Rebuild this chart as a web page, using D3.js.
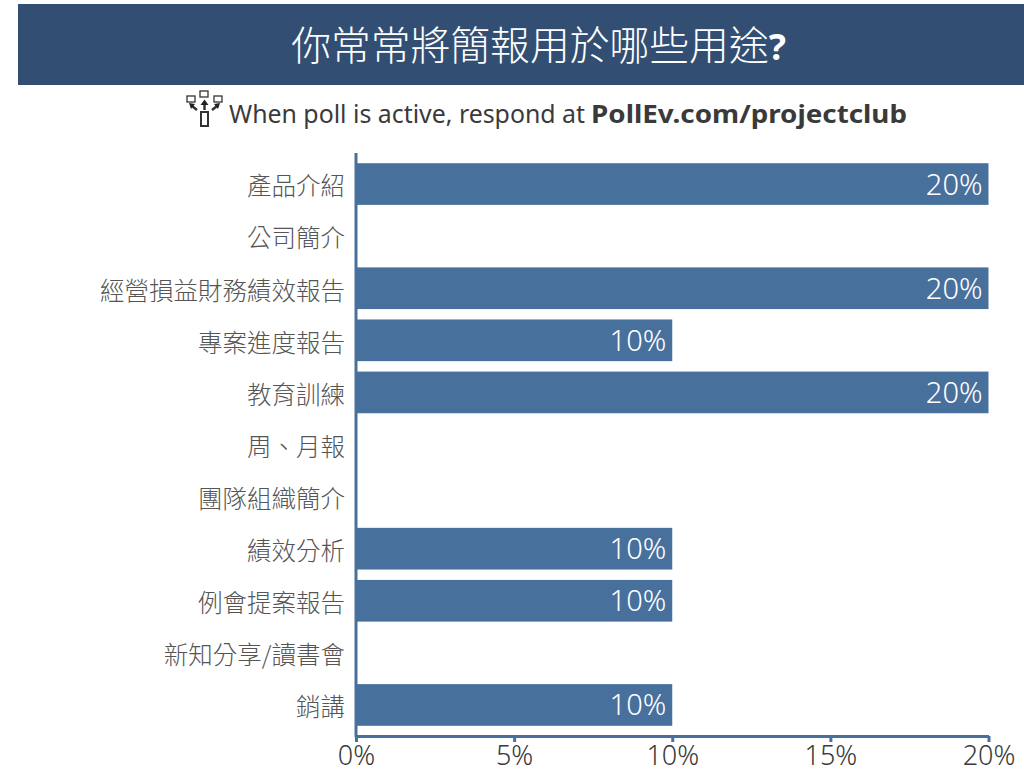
<!DOCTYPE html>
<html>
<head>
<meta charset="utf-8">
<script src="https://cdn.jsdelivr.net/npm/d3@7"></script>
<style>
  html, body { margin: 0; padding: 0; background: #fff; overflow: hidden; }
  text { font-family: "Noto Sans", "Noto Sans CJK TC", sans-serif; }
</style>
</head>
<body>
<svg id="chart" width="1024" height="777"></svg>
<script>
var titleText = "你常常將簡報用於哪些用途";
var categories = ["產品介紹", "公司簡介", "經營損益財務績效報告", "專案進度報告", "教育訓練", "周、月報", "團隊組織簡介", "績效分析", "例會提案報告", "新知分享/讀書會", "銷講"];
var percents = [20, 0, 20, 10, 20, 0, 0, 10, 10, 0, 10];
var tickValues = [0, 5, 10, 15, 20];

var svg = d3.select("#chart");
var cjk = '"Noto Sans CJK TC", sans-serif';

var x = d3.scaleLinear().domain([0, 20]).range([356, 988.5]);
var y = d3.scaleBand().domain(categories).range([158, 731]).paddingInner(0.2).paddingOuter(0.1);

// header
svg.append("rect")
  .attr("x", 18).attr("y", 4)
  .attr("width", 1006).attr("height", 81)
  .attr("fill", "#324f73");

var title = svg.append("text")
  .attr("x", 538.5).attr("y", 60)
  .attr("text-anchor", "middle")
  .attr("fill", "#fff")
  .attr("font-size", 39.8);
title.append("tspan").style("font-family", cjk).attr("font-weight", 300).text(titleText);
title.append("tspan").attr("font-weight", 700).attr("font-size", 36).text("?");

// poll line
var poll = svg.append("text")
  .attr("x", 229).attr("y", 123)
  .attr("fill", "#3a3a3a")
  .attr("font-size", 25.5);
poll.append("tspan").attr("textLength", 356).attr("lengthAdjust", "spacingAndGlyphs").text("When poll is active, respond at");
poll.append("tspan").attr("x", 591).attr("font-weight", 700).attr("textLength", 316).attr("lengthAdjust", "spacingAndGlyphs").text("PollEv.com/projectclub");

// icon
var icon = svg.append("g").attr("fill", "none").attr("stroke", "#333").attr("stroke-width", 1.3);
icon.append("rect").attr("x", 187).attr("y", 96).attr("width", 8).attr("height", 6);
icon.append("rect").attr("x", 200).attr("y", 91).attr("width", 8).attr("height", 6);
icon.append("rect").attr("x", 214).attr("y", 96).attr("width", 8).attr("height", 6);
icon.append("rect").attr("x", 201).attr("y", 112).attr("width", 7).attr("height", 14).attr("stroke-width", 2);
icon.append("path").attr("stroke-width", 2.5).attr("d", "M204.5 110V104M192 106L197 110M217 106L212 110");
icon.append("path").attr("stroke", "none").attr("fill", "#222").attr("d", "M204.5 99.5L208.5 105H200.5ZM189 103L195 104L191 109ZM220 103L214 104L218 109Z");

// bars
svg.selectAll("rect.bar")
  .data(categories)
  .join("rect")
  .attr("class", "bar")
  .attr("x", x(0))
  .attr("y", d => y(d))
  .attr("width", (d, i) => x(percents[i]) - x(0))
  .attr("height", y.bandwidth())
  .attr("fill", "#48709c")
  .style("display", (d, i) => percents[i] > 0 ? null : "none");

svg.selectAll("text.value")
  .data(categories.filter((d, i) => percents[i] > 0))
  .join("text")
  .attr("class", "value")
  .attr("x", d => x(percents[categories.indexOf(d)]) - 6)
  .attr("y", d => y(d) + y.bandwidth() / 2 + 10.5)
  .attr("text-anchor", "end")
  .attr("fill", "#fff")
  .attr("font-size", 29)
  .attr("font-weight", 300)
  .text(d => percents[categories.indexOf(d)] + "%");

// category axis
var yAxis = svg.append("g")
  .attr("transform", "translate(356,0)")
  .call(d3.axisLeft(y).tickSize(0).tickPadding(11));
yAxis.select(".domain").remove();
yAxis.selectAll("text")
  .style("font-family", cjk)
  .attr("font-weight", 300)
  .attr("font-size", 24.5)
  .attr("fill", "#555")
  .attr("y", 2)
  .attr("dy", "0.38em");

// value axis
var xAxis = svg.append("g")
  .attr("transform", "translate(0,736)")
  .call(d3.axisBottom(x).tickValues(tickValues).tickFormat(d => d + "%").tickSize(6).tickSizeOuter(0).tickPadding(4));
xAxis.select(".domain").attr("stroke", "#48709c").attr("stroke-width", 3);
xAxis.selectAll("line").attr("stroke", "#48709c").attr("stroke-width", 3);
xAxis.selectAll("text")
  .attr("font-size", 27)
  .attr("font-weight", 300)
  .attr("fill", "#3a3a3a");

// vertical axis line
svg.append("line")
  .attr("x1", x(0)).attr("x2", x(0))
  .attr("y1", 153).attr("y2", 737)
  .attr("stroke", "#48709c").attr("stroke-width", 3);
</script>
</body>
</html>
